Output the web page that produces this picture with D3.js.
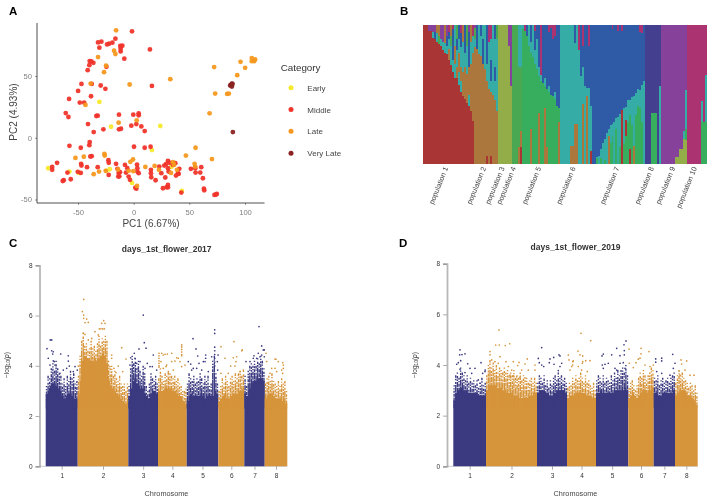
<!DOCTYPE html>
<html><head><meta charset="utf-8">
<script src="https://cdn.jsdelivr.net/npm/d3@7"></script>
<style>html,body{margin:0;background:#fff}svg{display:block;font-family:"Liberation Sans",Arial,sans-serif;filter:blur(0.3px)}</style>
</head><body><svg id="c" width="708" height="500"></svg>
<script>
// ---------- Panel A ----------
const pcaCategories=["Early","Middle","Late","Very Late"];
const pcaColors=["#f7e92e","#f0352b","#f6981f","#8b2323"];
const pcaEarly=[[-76.8,-24.7],[-57.7,-27.4],[-49.3,-28.5],[-30.8,29],[-20.3,8.9],[-21.5,-25.5],[-1.5,-36.6],[23.9,9.5],[16.4,-10],[33.8,-23.6],[43.3,-43.1],[-24.5,-26.8]];
const pcaMiddle=[[-1.5,86.2],[-16.4,80.2],[14.6,71.5],[-32,77.2],[-29,77.8],[-30.8,72.9],[-23.9,75.6],[-22.1,76.2],[-19.1,77],[-12,74.3],[-10.2,74.5],[-11.7,72.1],[-11.7,69.9],[-8.4,64],[-39.5,62.1],[-38,61.8],[-36.2,60.7],[-39.8,58.8],[-41.3,54.7],[-24.5,57.5],[-46.9,43.6],[-37.7,43.6],[-49.9,37.9],[-29.6,42.3],[-25.4,39.6],[16.4,42],[-38.3,33.6],[-58,31.4],[-48.4,28.5],[-44.5,28.5],[-61,20],[-58.6,16.8],[-33.5,17.6],[-32.3,17.9],[-13.2,18.7],[-0.3,18.7],[4.5,19.8],[4.5,18.2],[-41,11.1],[-27.2,6.8],[-35.9,4.6],[-13.2,6.8],[-11.4,7.3],[-2.1,9.8],[2.4,11.1],[6.9,9.2],[9.9,5.4],[-57.7,-6.5],[-47.5,-8.1],[-39.5,-3.5],[-39.8,-6],[0.3,-7.3],[9.9,-8.1],[15.2,-7.3],[-68.8,-20.3],[-73.2,-23.6],[-73.2,-26],[-59.5,-28.2],[-62.8,-34.4],[-63.7,-35],[-56.5,-33.6],[-50.2,-27.6],[-47.5,-28.5],[-47.2,-21.1],[-46.9,-22.5],[-41.9,-23.8],[-38.9,-15.2],[-37.7,-14.9],[-32.3,-23.8],[-22.7,-18.2],[-22.4,-20.3],[-15.8,-21.1],[-14.6,-25.2],[-13.5,-28.5],[-12.3,-27.9],[-12.9,-31.2],[-13.8,-31.4],[-22.4,-30.1],[-7.8,-22],[-5.7,-24.7],[-6.9,-28.2],[-4.5,-31.4],[-3.3,-34.1],[3,-21.7],[3.3,-24.7],[3.3,-27.4],[4.5,-28.7],[1.5,-40.4],[2.4,-41.2],[15.5,-26],[15.5,-28.7],[15.8,-32],[19.7,-34.4],[23,-23.3],[24.8,-28.7],[28.4,-32.2],[26.3,-40.9],[29.6,-40.1],[30.8,-38.2],[30.8,-40.1],[27.5,-22.5],[29,-21.4],[30.8,-18.7],[32.3,-20.3],[30.8,-24.7],[35.3,-22],[31.4,-27.4],[37.4,-20.6],[41,-25.2],[39.8,-28.7],[38,-30.6],[40.4,-29.3],[42.8,-44.4],[51.4,-25.2],[55.3,-24.7],[55.6,-28.2],[60.7,-23.8],[59.8,-28.2],[62.2,-32.8],[63.1,-41.2],[63.4,-42.5],[72.6,-46.3],[74.7,-45.5],[73.8,-46.1]];
const pcaLate=[[-15.8,87],[-17.6,70.5],[-16.4,67.8],[-32,65.3],[-24.8,58.3],[-26.6,53.1],[-38.6,43.9],[-3.6,43.1],[32.9,47.4],[-43.3,26.6],[2.7,14.1],[-13.5,12.2],[72.3,57.2],[96,61.5],[100.1,56.6],[93,50.7],[106.1,64.5],[108.2,62],[109.1,63.4],[106.1,62],[73.2,35.8],[84,35.5],[85.5,35.8],[68.2,19.8],[55.6,-8.1],[46.9,-14.4],[70.3,-17.3],[54.7,-21.1],[55.3,-23.3],[-52.3,-16.3],[-44.8,-15.4],[-26.3,-13],[-26,-14.4],[-0.6,-17.6],[-3,-19.5],[10.5,-23.6],[-35.9,-29.5],[-31.1,-27.4],[-25.1,-26.8],[-14,-25.7],[-0.3,-27.1],[-4.5,-26.8],[18.8,-22.8],[22.7,-26],[35.3,-19.8],[36.2,-22],[38.9,-26],[33.5,-28.5],[3,-39]];
const pcaVeryLate=[[89.1,4.6],[87.3,42.8],[88.8,43.6],[88.2,41.5],[86.7,42.3],[88.2,43.9]];
const pcaSeries=[pcaEarly,pcaMiddle,pcaLate,pcaVeryLate];

// ---------- Panel B ----------
const clusterColors={R:"#a93535",B:"#ac773c",O:"#93ae49",G:"#4aa853",L:"#37ad5e",T:"#36aca6",U:"#2e5aa6",I:"#453f8f",P:"#86429a",M:"#ab3372"};
const populationLabels=["population 1","population 2","population 3","population 4","population 5","population 6","population 7","population 8","population 9","population 10"];
const populationLabelSamples=[12,31,40.3,46,58.7,76,98,115.4,126,137];
// each row: sample count, then cluster / cumulative share pairs from the bottom up
const structureRows=[
[3,'R',100],[2,'R',96,'P',100],[1,'R',91,'T',95,'P',100],[1,'R',90,'U',95,'P',100],[1,'R',88,'T',94,'B',100],[1,'R',86,'G',92,'B',100],[1,'R',85,'T',90,'P',100],[1,'R',82,'T',88,'P',100],[1,'R',80,'T',87,'B',100],[1,'R',79,'T',85,'U',92,'P',100],[1,'R',75,'B',83,'T',90,'U',95,'M',100],[1,'R',71,'T',85,'G',92,'B',100],[1,'R',66,'T',75,'U',97,'M',100],[1,'R',62,'T',72,'B',85,'T',100],[1,'R',62,'B',70,'T',82,'U',90,'G',100],[1,'R',57,'T',66,'B',80,'T',90,'U',100],[1,'R',52,'T',60,'B',70,'T',84,'U',94,'M',100],[1,'R',49,'B',66,'T',88,'B',100],[1,'R',47,'B',70,'T',80,'U',100],[1,'R',44,'B',65,'T',85,'G',100],[1,'R',42,'T',50,'B',70,'U',95,'P',100],[1,'R',38,'B',72,'T',88,'B',100],[1,'R',31,'B',80,'T',92,'M',100],
[1,'B',84,'T',90,'G',98,'P',100],[1,'B',83,'U',100],[1,'B',79,'T',100],[1,'B',78,'T',92,'U',100],[1,'B',72,'U',90,'T',100],[1,'B',68,'T',100],[1,'R',6,'B',60,'T',72,'U',100],[1,'B',54,'T',88,'M',100],[1,'R',6,'B',52,'T',60,'U',75,'T',90,'M',100],[1,'B',50,'T',100],[1,'B',46,'T',60,'U',70,'T',90,'U',100],[1,'B',38,'T',90,'G',100],
[5,'O',100],[1,'O',85,'P',100],[1,'O',56,'P',100],
[3,'G',100],[1,'B',12,'G',70,'T',100],[1,'R',12,'B',24,'G',70,'T',100],
[1,'L',97,'T',100],[1,'L',96,'M',100],[1,'L',92,'U',100],[1,'L',85,'T',100],[1,'B',25,'L',80,'T',88,'U',100],[1,'L',77,'T',100],[1,'L',72,'T',82,'U',96,'M',100],[1,'L',68,'T',90,'U',100],[1,'B',37,'L',63,'T',70,'U',100],[1,'L',60,'T',64,'M',100],[1,'L',58,'U',100],[1,'B',40,'L',56,'T',62,'U',100],[1,'B',12,'L',54,'U',100],[1,'L',52,'T',56,'U',95,'M',100],[1,'L',50,'U',98,'M',100],[1,'L',49,'U',90,'M',100],[1,'L',47,'T',52,'U',92,'M',100],[1,'L',42,'U',100],[1,'B',30,'L',40,'U',100],
[5,'T',100],[2,'B',13,'T',100],[1,'B',29,'T',87,'U',100],[1,'B',29,'T',100],[1,'T',82,'M',100],[1,'T',63,'U',100],[1,'B',43,'T',70,'U',85,'M',100],[1,'T',56,'U',100],[1,'B',49,'T',55,'U',100],[1,'T',55,'U',85,'M',100],[1,'R',9,'T',42,'U',100],
[2,'U',100],[1,'L',4,'T',5,'U',100],[1,'T',6,'U',100],[1,'L',4,'T',11,'U',100],[1,'T',15,'U',100],[1,'L',3,'T',18,'U',100],[1,'T',22,'U',100],[1,'B',20,'T',25,'U',100],[1,'L',15,'T',28,'U',100],[1,'L',20,'T',29,'U',97,'M',100],[1,'T',30,'U',100],[1,'L',25,'T',33,'U',100],[1,'T',34,'U',96,'M',100],[1,'L',12,'T',36,'U',100],[1,'R',39,'U',96,'M',100],[1,'L',15,'T',40,'U',100],[1,'L',20,'R',32,'T',41,'U',100],[1,'L',30,'T',46,'U',100],[1,'R',11,'L',35,'T',46,'U',100],[1,'L',28,'T',48,'U',100],[1,'B',13,'T',49,'U',100],[1,'L',35,'T',51,'U',100],[1,'L',42,'T',54,'U',100],[1,'L',40,'T',53,'U',95,'M',100],[1,'L',30,'T',57,'U',94,'M',100],[1,'T',60,'U',100],
[3,'I',100],[3,'L',37,'I',100],[1,'I',100],[1,'T',56,'I',100],
[7,'P',100],[2,'O',5,'P',100],[2,'O',11,'P',100],[1,'O',18,'T',24,'P',100],[1,'O',17,'L',25,'T',53,'P',100],
[7,'M',100],[1,'L',30,'T',45,'M',100],[1,'L',30,'M',100],[1,'L',30,'T',64,'M',100]
];

// ---------- Panels C and D ----------
const chromosomes=["1","2","3","4","5","6","7","8"];
const manhattanYTicks=[0,2,4,6,8];
const chromLengthsC=[32,50.6,29.7,28.7,31.6,26,20.4,22.6];
const chromLengthsD=[32.7,51,30,29,32.3,25.4,21.3,22.7];
// solid body of each chromosome
const denseTopC=[
[2.9,3.0,3.2,3.3,3.3,3.2,3.1,3.0,2.8,2.7,2.8,2.9,2.9,2.8,2.7,2.7],
[2.9,3.4,4.2,4.4,4.3,4.3,4.2,4.2,4.3,4.2,4.3,4.4,4.5,4.4,4.1,3.4,3.2,3.1,3.0,2.9,2.8,2.7,2.6,2.5,2.5],
[2.8,3.1,3.4,3.5,3.3,3.2,3.1,3.1,2.9,2.8,2.7,2.9,3.0,3.0,2.9],
[3.0,3.0,3.0,3.1,3.1,3.1,3.1,3.0,3.0,2.9,2.8,2.8,2.6,2.5],
[2.6,2.8,2.9,2.8,2.8,2.8,2.8,2.9,2.8,2.7,2.8,2.9,2.8,2.8,3.0,2.9],
[2.6,2.7,2.8,2.9,2.7,2.7,2.8,2.9,2.9,2.9,3.0,3.0,3.1],
[2.9,2.8,3.1,3.3,3.4,3.4,3.5,3.5,3.5,3.4],
[2.7,2.8,2.9,2.9,2.8,2.7,2.7,2.7,2.6,2.7,2.5]];
const denseTopD=[
[2.6,2.9,3.0,3.1,3.1,3.0,3.0,2.9,2.9,2.9,2.9,2.9,2.8,2.8,2.8,2.8],
[3.0,3.2,3.2,3.2,3.2,3.1,3.1,3.1,3.0,3.0,2.9,2.9,2.9,2.8,2.8,2.8,2.7,2.7,2.7,2.7,2.7,2.8,2.8,2.9,2.9],
[2.9,3.0,3.0,3.0,2.9,2.9,2.8,2.8,2.9,2.9,3.0,3.0,3.0,3.0,2.9],
[2.7,2.8,2.8,2.8,2.9,2.9,2.9,2.9,2.9,2.8,2.8,2.8,2.7,2.7],
[2.9,2.9,3.0,2.9,2.9,2.9,2.9,2.9,2.9,3.0,3.0,3.0,3.0,3.0,3.1,3.0],
[2.7,2.8,2.9,2.8,2.7,2.8,2.9,3.0,3.0,2.9,3.0,3.0,3.1],
[2.9,2.9,2.8,2.8,2.9,2.9,2.9,2.9,2.9,3.0],
[2.8,2.9,3.0,3.0,3.0,2.9,2.8,2.8,2.7,2.6,2.4]];
// upper edge of the speckled band above the solid body
const fringeTopC=[
[3.2,3.6,3.5,3.9,4.1,3.8,4.2,3.9,3.7,3.6,3.3,3.5,3.2,3.6,3.4,3.8,3.5,3.7,3.3,3.4],
[3.6,4.4,5.0,5.3,4.8,4.9,4.6,4.7,5.0,4.7,4.8,4.6,4.9,5.2,4.8,5.1,5.0,5.2,5.0,4.2,3.9,4.0,3.6,3.8,3.5,3.4,3.6,3.3,3.2,3.3,3.0,3.3],
[3.2,3.9,4.4,4.1,4.3,3.9,4.2,3.8,3.6,4.0,3.7,3.2,3.0,3.3,3.7,3.5,3.4,3.6,3.3],
[3.5,3.9,3.6,3.4,3.7,3.6,3.8,3.7,3.6,3.5,3.6,3.4,3.5,3.3,3.2,3.0,3.0,3.1],
[3.3,3.7,3.5,3.4,3.6,3.3,3.5,3.4,3.7,3.5,3.3,3.6,3.4,3.6,3.2,3.3,4.2,4.4,3.7,3.3],
[3.0,3.2,3.5,3.3,3.6,3.4,3.2,3.5,3.6,3.4,3.7,3.5,3.7,3.8,3.6,3.8],
[3.6,3.2,3.8,4.0,4.1,4.0,4.2,4.0,4.3,4.1,4.4,4.2,3.9],
[3.3,3.5,3.6,3.4,3.7,3.4,3.3,3.2,3.4,3.2,3.5,3.3,3.4,3.0]];
const fringeTopD=[
[3.2,3.6,3.7,3.5,3.9,3.7,3.6,3.4,3.6,3.3,3.5,3.3,3.4,3.2,3.4,3.1,3.3,3.5,3.2,3.3],
[3.6,4.0,4.2,3.9,4.1,3.8,4.0,3.7,3.9,3.8,3.7,3.9,3.7,3.8,3.6,3.7,3.6,3.8,3.5,3.6,3.5,3.7,3.4,3.6,3.4,3.5,3.3,3.4,3.5,3.3,3.5,3.3],
[3.3,3.6,3.5,3.3,3.6,3.2,3.4,3.1,3.4,3.2,3.5,3.6,3.4,3.7,3.5,3.6,3.4,3.5,3.3],
[3.1,3.3,3.2,3.5,3.3,3.6,3.4,3.5,3.7,3.5,3.3,3.6,3.3,3.4,3.2,3.1,3.3,3.0],
[3.4,3.6,3.5,3.3,3.6,3.3,3.5,3.4,3.3,3.6,3.4,3.7,3.5,3.8,3.6,3.8,3.9,3.7,4.0,3.6],
[3.1,3.3,3.4,3.2,3.0,3.2,3.5,3.7,3.5,3.8,3.6,3.4,3.6,3.7,3.9,3.8],
[3.5,3.4,3.6,3.2,3.4,3.5,3.3,3.4,3.5,3.3,3.5,3.6,3.7],
[3.3,3.6,3.8,3.6,3.7,3.5,3.4,3.3,3.1,3.3,3.2,3.0,3.2,2.9]];
const hitsC=[[6,5.03],[4.6,5.03],[1.3,4.68],[6,4.6],[7.6,4.56],[7,4.47],[15,4.47],[22.6,4.4],[22.6,4.19],[2.6,4.3],[7.6,4.2],[8.6,4.17],[4.3,4.03],[9.3,4.03],[23.6,3.99],[17.6,3.83],[27.6,3.77],[29.3,3.97],[32.6,3.99],[31.6,3.83],[14.3,3.7],[21,3.9],
[38,6.64],[36.6,6.16],[38,6.02],[38,5.89],[39.3,5.72],[42.6,5.73],[41,5.86],[58,5.8],[56,5.69],[59.3,5.69],[53.6,5.47],[55.3,5.47],[57,5.47],[58.6,5.47],[37.6,5.3],[39.3,5.25],[49.3,5.36],[42.6,5.03],[46,5.09],[52.6,5.23],[66,4.43],[66,4.3],[62.6,4.17],[72.6,3.99],[68.3,3.9],[77,3.77],[80.3,4.27],[76,4.72],[64.3,3.97],[70.3,3.73],
[97.6,6.02],[98.6,4.92],[100.3,4.7],[93.3,4.67],[88.6,4.5],[85,4.32],[89.3,4.3],[107.6,4.43],[101.6,4.1],[106.6,3.97],[111,3.83],[91,4.1],[94.3,4.17],[84.3,4.03],[99.3,3.9],[104.3,3.97],[92.6,3.9],[87.6,3.9],
[113.3,4.5],[113.3,4.4],[113.3,4.3],[113.3,4.2],[113.3,4.1],[113.3,4.0],[113.3,3.95],[117.6,4.43],[121.6,4.47],[120.3,3.97],[122.6,3.7],[116,4.5],[119.3,4.46],[126,4.5],[136,4.83],[136,4.75],[136,4.65],[136,4.55],[136,4.45],[136,4.4],[132.6,4.3],[131,4.32],[126,4.17],[129.3,4.19],[134.3,4.17],[139.3,4.03],[121,4.03],[115.3,4.17],[127.6,3.83],[117.6,3.9],[136,3.97],
[147.3,5.08],[150.3,4.67],[169,5.43],[169,5.29],[169,4.74],[169,4.6],[169,4.45],[169,4.3],[169,4.15],[169,4],[160,4.43],[160,4.3],[157.6,4.17],[152,4.39],[153.3,4.1],[142.6,4.17],[145,4.07],[147.6,3.9],[172.4,4.43],[166,4.36],[171.6,4.17],[172,3.83],[159.3,4.17],[146,3.83],[156,3.83],[151,3.9],[162.6,3.77],
[175.3,4.76],[188.3,4.96],[196.6,4.63],[196,4.6],[179.3,4.3],[187.6,4.32],[191,4.36],[190.3,4.17],[185,3.99],[189.3,3.99],[175.3,3.7],[194.3,3.77],[197.6,3.83],[182.6,3.7],[192.6,3.63],
[213.3,5.56],[216,4.79],[208.3,4.4],[218.6,4.63],[217.6,4.63],[211,4.3],[214.3,4.36],[204.3,4.17],[200.3,4.17],[216,4.43],[212.6,4.5],[207.6,4.3],[218.6,4.36],
[230.3,4.26],[232.6,4.17],[237,4.13],[237.6,4.03],[229.3,3.9],[220.3,4.5],[226,3.9],[236,3.83],[237,3.7],[231,3.77],[221,4.17],[224.3,3.7],[237.6,3.9],[229.3,4.27]];
const hitsD=[[45.7,5.38],[42.4,4.79],[46,4.79],[52,4.77],[56.4,4.84],[6.7,4.6],[6.4,4.4],[8.7,4.41],[11.7,4.44],[36.7,4.53],[36.7,4.4],[14.4,4.05],[27.7,4.09],[5,4.09],[3.4,4.03],[7.4,4.17],[88.4,4.69],[85,4.26],[74,4.24],[65.7,4.1],[60,4.13],[52.7,4.13],[81.7,4],[71.7,4.04],[64.4,3.98],[55,3.94],[105.7,4.4],[106.7,4.36],[100.4,4.3],[96.7,4.24],[96,4.09],[86,4.09],[88.4,4],[90.4,3.94],[100.7,4.03],[108.4,4.07],[106.7,3.94],[105,3.78],[115,4.39],[120,4.16],[115.7,4.2],[118.4,3.94],[116.7,3.8],[16.7,3.87],[21.7,3.87],[11.7,3.7],[18.4,3.67],[6.7,3.83],[25,3.41],[31.7,3.74],[29.4,3.67],[31.9,3.8],[26.7,3.28],[38.4,4.2],[41.7,4.13],[46.7,4.33],[45,4.07],[58.4,3.8],[68.4,3.8],[75,3.8],[81.7,3.8],[56.7,3.6],[60,3.57],[63.4,3.54],[66.7,3.51],[71.7,3.49],
[127.7,5.25],[137.4,4.96],[172.7,4.95],[170.7,4.8],[163.4,4.66],[175.7,4.63],[171,4.57],[171,4.4],[166.7,4.37],[158.4,4.4],[150,4.43],[148.7,4.36],[187.7,4.66],[195.7,4.53],[187.7,4.44],[124.7,4.55],[126.7,4.4],[129.4,4.36],[132.4,4.17],[136.7,4.17],[129.4,4.13],[129,4.07],[119.4,4.13],[119.4,4],[125,3.94],[128.4,3.8],[134,3.74],[208.4,4.27],[208.4,4.16],[202.4,4.24],[202.4,4.11],[219.4,4.42],[227.7,4.2],[233.4,4.16],[228.4,4.04],[221.7,4.07],[186.7,4.27],[185,4.23],[182.7,4.09],[191.7,4],[200,4],[196.7,3.94],[180,3.9],[176,4.07],[155,4.07],[149,4],[151.7,4.03],[150,3.87],[166.7,4.07],[170,4.09],[161.7,3.87],[163.4,3.8],[171.7,3.87],[220,3.87],[203.4,3.74],[208.4,3.67],[216.7,3.6],[231.7,3.8],[236.7,3.6],[240.7,3.6],[226.7,3.6]];
const chromColors=["#3b3a80","#d6943b"];
const speckleDashes=["1.3 1.7 1.3 1.2 2 1 3 .8 6 .5 40","2 1.3 1.2 1.5 3.2 .8 4 .6 40","1.2 2.2 2.4 1 1.6 1.1 5 .6 40","2.6 1 1.4 1.9 2 .9 7 .5 40"];

const svg=d3.select("#c");

// Panel letters
[["A",9,14.5],["B",400,14.5],["C",9,247],["D",399,247]].forEach(([t,x,y])=>svg.append("text").attr("x",x).attr("y",y).attr("font-size",11.5).attr("font-weight",700).attr("fill","#000").text(t));

// ---------- draw A ----------
(function(){
  const x=d3.scaleLinear().domain([-50,100]).range([78,245]);
  const y=d3.scaleLinear().domain([-50,50]).range([199.5,76]);
  const g=svg.append("g");
  const ax=g.append("g").attr("transform","translate(0,203)").call(d3.axisBottom(x).tickValues([-50,0,50,100]).tickSize(2).tickFormat(String));
  const ay=g.append("g").attr("transform","translate(37,0)").call(d3.axisLeft(y).tickValues([-50,0,50]).tickSize(2).tickFormat(String));
  [ax,ay].forEach(a=>{a.selectAll("text").attr("font-size",7.6).attr("fill","#7f7f7f").attr("font-family","inherit");a.selectAll(".tick line").attr("stroke","#555").attr("stroke-width",.6);a.select(".domain").remove();});
  ax.selectAll("text").attr("dy",".9em");
  g.append("line").attr("x1",37).attr("x2",264.5).attr("y1",203).attr("y2",203).attr("stroke","#222").attr("stroke-width",.8);
  g.append("line").attr("x1",37).attr("x2",37).attr("y1",23).attr("y2",203).attr("stroke","#222").attr("stroke-width",.8);
  pcaSeries.forEach((s,i)=>g.append("g").selectAll("circle").data(s).join("circle").attr("cx",d=>x(d[0])).attr("cy",d=>y(d[1])).attr("r",2.4).attr("fill",pcaColors[i]).attr("opacity",.95));
  g.append("text").attr("x",151).attr("y",226.5).attr("text-anchor","middle").attr("font-size",10).attr("fill","#444").text("PC1 (6.67%)");
  g.append("text").attr("transform","translate(16.5,112) rotate(-90)").attr("text-anchor","middle").attr("font-size",10).attr("fill","#444").text("PC2 (4.93%)");
  g.append("text").attr("x",280.7).attr("y",70.7).attr("font-size",9.8).attr("fill","#333").text("Category");
  const ly=d3.scalePoint().domain(pcaCategories).range([87.7,153.2]);
  pcaCategories.forEach((c,i)=>{
    g.append("circle").attr("cx",291).attr("cy",ly(c)).attr("r",2.5).attr("fill",pcaColors[i]);
    g.append("text").attr("x",307.3).attr("y",ly(c)+3).attr("font-size",8).attr("fill","#444").text(c);
  });
})();

// ---------- draw B ----------
(function(){
  const N=d3.sum(structureRows,r=>r[0]);
  const x=d3.scaleLinear().domain([0,N]).range([422.5,707]);
  const y=d3.scaleLinear().domain([0,100]).range([164,25]);
  const g=svg.append("g").attr("shape-rendering","crispEdges");
  let idx=0;
  structureRows.forEach(r=>{
    let prev=0;
    for(let i=1;i<r.length;i+=2){
      g.append("rect").attr("x",x(idx)).attr("width",x(idx+r[0])-x(idx)+.4).attr("y",y(r[i+1])).attr("height",y(prev)-y(r[i+1])).attr("fill",clusterColors[r[i]]);
      prev=r[i+1];
    }
    idx+=r[0];
  });
  populationLabels.forEach((t,i)=>{
    svg.append("text").attr("transform",`translate(${x(populationLabelSamples[i])+2},168) rotate(-68)`).attr("text-anchor","end").attr("font-size",7.3).attr("fill","#444").text(t);
  });
})();

// ---------- draw C / D ----------
function manhattan(o){
  const total=d3.sum(o.lengths);
  const cum=d3.cumsum(o.lengths);
  const starts=[0,...cum];
  const x=d3.scaleLinear().domain([0,total]).range(o.xr);
  const y=d3.scaleLinear().domain([0,8]).range([466.3,o.top]);
  const g=svg.append("g");
  const mids=o.lengths.map((l,i)=>starts[i]+l/2);
  const ay=g.append("g").attr("transform",`translate(${o.ax},0)`).call(d3.axisLeft(y).tickValues(manhattanYTicks).tickSize(4));
  ay.select(".domain").attr("stroke","#b8b8b8").attr("stroke-width",1.8);
  ay.selectAll(".tick line").attr("stroke","#777").attr("stroke-width",.6);
  ay.selectAll("text").attr("font-size",6.5).attr("fill","#333").attr("font-family","inherit");
  g.append("line").attr("x1",o.ax).attr("x2",o.xr[1]).attr("y1",466.3).attr("y2",466.3).attr("stroke","#999").attr("stroke-width",.5);
  const ax=g.append("g").attr("transform","translate(0,466.3)").call(d3.axisBottom(x).tickValues(mids).tickSize(3.5).tickFormat((d,i)=>chromosomes[i]));
  ax.select(".domain").remove();
  ax.selectAll(".tick line").attr("stroke","#777").attr("stroke-width",.6);
  ax.selectAll("text").attr("font-size",6.5).attr("fill","#333").attr("font-family","inherit").attr("dy",".85em");
  o.lengths.forEach((l,i)=>{
    const tops=o.dense[i];
    const cx=d3.scaleLinear().domain([0,tops.length]).range([starts[i],starts[i]+l]);
    const pts=tops.map((v,k)=>[cx(k),v]).concat([[cx(tops.length),tops[tops.length-1]]]);
    g.append("path").attr("d",d3.area().x(d=>x(d[0])).y0(y(0)).y1(d=>y(d[1])).curve(d3.curveStepAfter)(pts)).attr("fill",chromColors[i%2]);
    const peaks=o.fringe[i];
    const fx=d3.scaleLinear().domain([0,peaks.length]).range([starts[i],starts[i]+l]);
    g.append("g").selectAll("line").data(peaks).join("line")
      .attr("x1",(d,k)=>x(fx(k+.5))).attr("x2",(d,k)=>x(fx(k+.5)))
      .attr("y1",d=>y(d)).attr("y2",y(2.3))
      .attr("stroke",chromColors[i%2]).attr("stroke-width",1.4)
      .attr("stroke-dasharray",(d,k)=>speckleDashes[(k*3+i)%speckleDashes.length]);
  });
  g.append("g").selectAll("circle").data(o.hits).join("circle").attr("cx",d=>x(d[0])).attr("cy",d=>y(d[1])).attr("r",.85)
    .attr("fill",d=>chromColors[d3.bisectRight(cum,d[0])%2]);
  g.append("text").attr("x",o.titleX).attr("y",o.titleY).attr("text-anchor","middle").attr("font-size",8.5).attr("font-weight",700).attr("fill","#333").text(o.title);
  g.append("text").attr("x",(o.xr[0]+o.xr[1])/2).attr("y",496).attr("text-anchor","middle").attr("font-size",7.3).attr("fill","#444").text("Chromosome");
  const yl=g.append("text").attr("transform",`translate(${o.ylx},365) rotate(-90)`).attr("text-anchor","middle").attr("font-size",6.5).attr("fill","#333");
  yl.append("tspan").text("\u2212log");
  yl.append("tspan").attr("font-size",4.8).attr("dy",1.4).text("10");
  yl.append("tspan").attr("dy",-1.4).text("(");
  yl.append("tspan").attr("font-style","italic").text("p");
  yl.append("tspan").text(")");
}
manhattan({lengths:chromLengthsC,dense:denseTopC,fringe:fringeTopC,hits:hitsC,xr:[45.7,287.3],top:265.3,ax:39.5,title:"days_1st_flower_2017",titleX:166.7,titleY:251.5,ylx:9});
manhattan({lengths:chromLengthsD,dense:denseTopD,fringe:fringeTopD,hits:hitsD,xr:[453.3,697.7],top:263.7,ax:447,title:"days_1st_flower_2019",titleX:575.5,titleY:250,ylx:417});
</script></body></html>
